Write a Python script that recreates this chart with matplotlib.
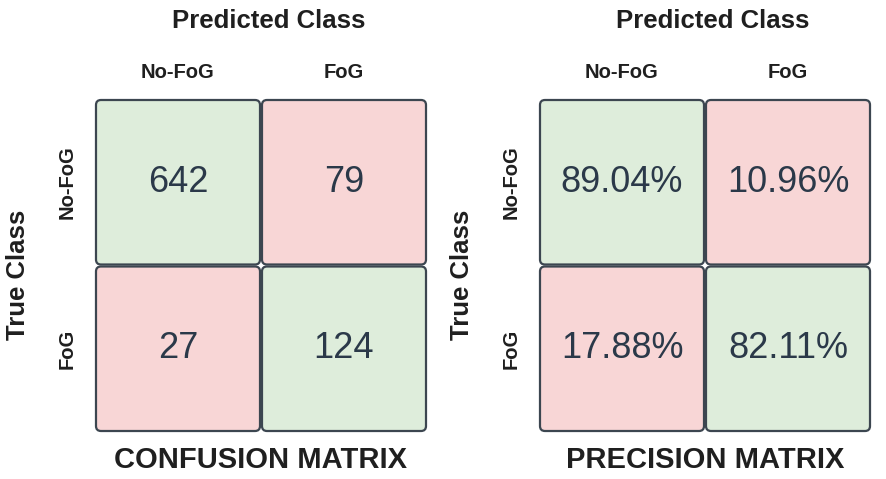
import matplotlib
matplotlib.use("Agg")
import matplotlib.pyplot as plt
from matplotlib.patches import FancyBboxPatch

classes = ["No-FoG", "FoG"]
confusion = [[642, 79], [27, 124]]
precision = [[89.04, 10.96], [17.88, 82.11]]
titles = ["CONFUSION MATRIX", "PRECISION MATRIX"]

GREEN = "#deeddb"
RED = "#f8d6d6"
EDGE = "#3c4650"
NUMC = "#2b3949"
LABC = "#1f1f1f"
BOLD = ["Liberation Sans", "DejaVu Sans"]
NUMF = ["Liberation Sans", "DejaVu Sans"]

fig = plt.figure(figsize=(8.86, 4.79), dpi=100)
fig.patch.set_facecolor("white")

axes_pos = [[95/886, 1-432/479, 332/886, 333/479],
            [539/886, 1-432/479, 332/886, 333/479]]

def draw(ax, vals, fmt, title):
    ax.set_xlim(0, 2)
    ax.set_ylim(2, 0)
    ax.axis("off")
    for i in range(2):
        for j in range(2):
            col = GREEN if i == j else RED
            p = FancyBboxPatch((j + 0.006, i + 0.006), 0.988, 0.988,
                               boxstyle="round,pad=0,rounding_size=0.03",
                               facecolor=col, edgecolor=EDGE, linewidth=1.6,
                               clip_on=False)
            ax.add_patch(p)
            ax.text(j + 0.5, i + 0.5, fmt(vals[i][j]), ha="center", va="center",
                    fontsize=26, color=NUMC, family=NUMF)
    for j, c in enumerate(classes):
        ax.text((j + 0.5) / 2, 1.081, c, transform=ax.transAxes, ha="center",
                va="center", fontsize=14.5, fontweight="bold", color=LABC, family=BOLD)
    for i, c in enumerate(classes):
        ax.text(-0.085, 1 - (i + 0.5) / 2, c, transform=ax.transAxes, ha="center",
                va="center", rotation=90, fontsize=14.5, fontweight="bold",
                color=LABC, family=BOLD)
    ax.text(0.524, 1.234, "Predicted Class", transform=ax.transAxes, ha="center",
            va="center", fontsize=18.5, fontweight="bold", color=LABC, family=BOLD)
    ax.text(-0.232, 0.473, "True Class", transform=ax.transAxes, ha="center",
            va="center", rotation=90, fontsize=18.5, fontweight="bold",
            color=LABC, family=BOLD)
    ax.text(0.5, -0.084, title, transform=ax.transAxes, ha="center",
            va="center", fontsize=21, fontweight="bold", color=LABC, family=BOLD)

ax1 = fig.add_axes(axes_pos[0])
draw(ax1, confusion, lambda v: f"{v}", titles[0])
ax2 = fig.add_axes(axes_pos[1])
draw(ax2, precision, lambda v: f"{v:.2f}%", titles[1])

fig.savefig("out.png", dpi=100, facecolor="white")
